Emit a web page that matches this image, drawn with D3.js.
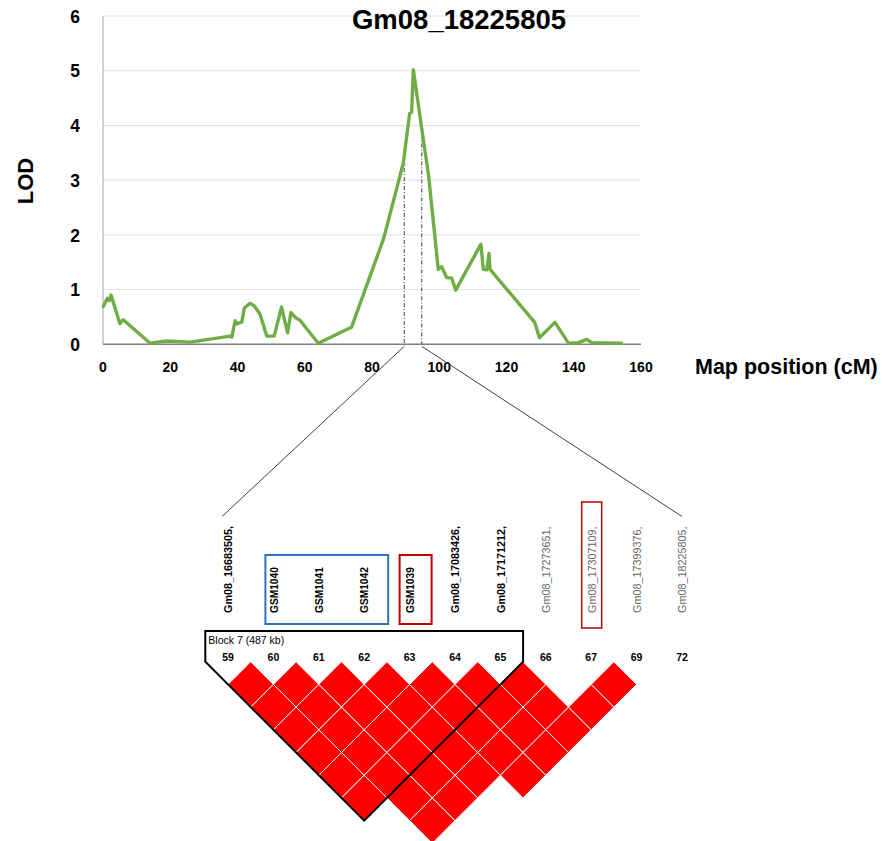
<!DOCTYPE html>
<html>
<head>
<meta charset="utf-8">
<script src="https://cdn.jsdelivr.net/npm/d3@7"></script>
<style>
  body { margin: 0; background: #fff; }
  text { font-family: "Liberation Sans", Arial, sans-serif; }
</style>
</head>
<body>
<script>
//LOD profile on Gm08 with the LD block below it

//LOD curve (cM, LOD)
var cmPos = [0.1, 1.3, 1.9, 2.4, 5.0, 6.0, 14.0, 18.9, 25.9, 37.8, 38.3, 39.3, 39.8, 41.3, 42.0,
  43.7, 45.0, 46.7, 48.7, 50.9, 53.1, 54.9, 55.9, 57.4, 58.6, 64.0, 73.9, 83.5, 89.3, 91.2, 91.8,
  92.3, 94.7, 96.8, 99.7, 100.7, 102.2, 103.7, 104.9, 112.4, 113.1, 114.1, 114.8, 115.1, 128.4,
  129.8, 134.4, 137.7, 138.4, 141.4, 143.9, 145.3, 154.2];
var lodVals = [0.69, 0.84, 0.80, 0.90, 0.38, 0.45, 0.02, 0.06, 0.04, 0.15, 0.13, 0.43, 0.37, 0.41, 0.66,
  0.75, 0.70, 0.55, 0.15, 0.15, 0.68, 0.21, 0.58, 0.48, 0.44, 0.02, 0.31, 1.94, 3.31, 4.22, 4.24,
  5.02, 3.98, 3.10, 1.37, 1.42, 1.22, 1.21, 0.99, 1.83, 1.37, 1.36, 1.66, 1.37, 0.40,
  0.12, 0.40, 0.09, 0.02, 0.03, 0.09, 0.03, 0.02];

var xTicks = [0, 20, 40, 60, 80, 100, 120, 140, 160];
var yTicks = [0, 1, 2, 3, 4, 5, 6];

//interval zoomed below (cM) and where the dash-dot lines meet the curve
var qtlPos = [89.6, 94.8];
var qtlLod = [3.55, 4.0];

var chartTitle = "Gm08_18225805";

//markers of the LD plot
var markerNums = ["59", "60", "61", "62", "63", "64", "65", "66", "67", "69", "72"];
var markerNames = ["Gm08_16683505,", "GSM1040", "GSM1041", "GSM1042", "GSM1039", "Gm08_17083426,",
  "Gm08_17171212,", "Gm08_17273651,", "Gm08_17307109,", "Gm08_17399376,", "Gm08_18225805,"];

//haplotype block
var blockMarkers = ["59", "60", "61", "62", "63", "64", "65"];
var blockLabel = "Block 7 (487 kb)";

//marker pairs in strong LD (red cells)
var ldPairs = [
  "59-60", "59-61", "59-62", "59-63", "59-64", "59-65",
  "60-61", "60-62", "60-63", "60-64", "60-65", "60-66", "60-67",
  "61-62", "61-63", "61-64", "61-65", "61-66", "61-67",
  "62-63", "62-64", "62-65", "62-66", "62-67",
  "63-64", "63-65", "63-66", "63-67", "63-69",
  "64-65", "64-66", "64-67", "64-69",
  "65-66", "65-67", "65-69",
  "66-69",
  "67-69"
];

//marker groups that are boxed
var blueBox = ["60", "62"];
var redBoxes = ["63", "67"];

var w = 884, h = 841;

window.onload = function(){

    var svg = d3.select("body")
        .append("svg")
        .attr("width", w)
        .attr("height", h)
        .style("background-color", "#fff");

    //scales for the LOD chart
    var x = d3.scaleLinear()
        .domain([0, 160])
        .range([103, 641]);

    var y = d3.scaleLinear()
        .domain([0, 6])
        .range([344.3, 16]);

    //gridlines
    svg.selectAll(".grid")
        .data(yTicks.filter(function(d){ return d > 0; }))
        .enter()
        .append("line")
        .attr("class", "grid")
        .attr("x1", x(0))
        .attr("x2", x(160))
        .attr("y1", function(d){ return y(d); })
        .attr("y2", function(d){ return y(d); })
        .style("stroke", "#e0e0e0")
        .style("stroke-width", 1);

    //left axis line and baseline
    svg.append("line")
        .attr("x1", x(0)).attr("x2", x(0))
        .attr("y1", y(6)).attr("y2", y(0))
        .style("stroke", "#a6a6a6")
        .style("stroke-width", 1);

    svg.append("line")
        .attr("x1", x(0)).attr("x2", x(160))
        .attr("y1", y(0)).attr("y2", y(0))
        .style("stroke", "#7f7f7f")
        .style("stroke-width", 1.5);

    //tick labels
    svg.selectAll(".ylab")
        .data(yTicks)
        .enter()
        .append("text")
        .attr("class", "ylab")
        .attr("x", 80)
        .attr("y", function(d){ return y(d); })
        .attr("dy", "0.38em")
        .attr("text-anchor", "end")
        .style("font-size", "17.5px")
        .style("font-weight", "bold")
        .text(function(d){ return d; });

    svg.selectAll(".xlab")
        .data(xTicks)
        .enter()
        .append("text")
        .attr("class", "xlab")
        .attr("x", function(d){ return x(d); })
        .attr("y", 372)
        .attr("text-anchor", "middle")
        .style("font-size", "14px")
        .style("font-weight", "bold")
        .text(function(d){ return d; });

    //axis titles
    svg.append("text")
        .attr("transform", "translate(33,181) rotate(-90)")
        .attr("text-anchor", "middle")
        .style("font-size", "22px")
        .style("font-weight", "bold")
        .text("LOD");

    svg.append("text")
        .attr("x", 695)
        .attr("y", 374)
        .style("font-size", "21.5px")
        .style("font-weight", "bold")
        .text("Map position (cM)");

    svg.append("text")
        .attr("x", 459)
        .attr("y", 28.5)
        .attr("text-anchor", "middle")
        .style("font-size", "27.5px")
        .style("font-weight", "bold")
        .text(chartTitle);

    //dash-dot lines marking the interval
    svg.selectAll(".qtl")
        .data(qtlPos)
        .enter()
        .append("line")
        .attr("class", "qtl")
        .attr("x1", function(d){ return x(d); })
        .attr("x2", function(d){ return x(d); })
        .attr("y1", function(d, i){ return y(qtlLod[i]); })
        .attr("y2", y(0))
        .style("stroke", "#404040")
        .style("stroke-width", 1)
        .style("stroke-dasharray", "4,2,1,2");

    //LOD curve
    var line = d3.line()
        .x(function(d){ return x(d[0]); })
        .y(function(d){ return y(d[1]); });

    svg.append("path")
        .datum(cmPos.map(function(d, i){ return [d, lodVals[i]]; }))
        .attr("d", line)
        .style("fill", "none")
        .style("stroke", "#70ad47")
        .style("stroke-width", 3.4)
        .style("stroke-linejoin", "round")
        .style("stroke-linecap", "round");

    //LD plot layout
    var xm = d3.scalePoint()
        .domain(markerNums)
        .range([228, 682]);

    var half = xm.step() / 2;
    var ldTop = 661.7;

    //zoom lines from the axis to the LD plot
    var zoomEnds = [[xm(markerNums[0]) - 6, 516.5], [xm(markerNums[markerNums.length - 1]), 516.5]];
    svg.selectAll(".zoomline")
        .data(qtlPos)
        .enter()
        .append("line")
        .attr("class", "zoomline")
        .attr("x1", function(d){ return x(d); })
        .attr("y1", y(0) + 2)
        .attr("x2", function(d, i){ return zoomEnds[i][0]; })
        .attr("y2", function(d, i){ return zoomEnds[i][1]; })
        .style("stroke", "#404040")
        .style("stroke-width", 1);

    //marker names, rotated
    svg.selectAll(".mname")
        .data(markerNames)
        .enter()
        .append("text")
        .attr("class", "mname")
        .attr("transform", function(d, i){
            return "translate(" + (xm(markerNums[i]) + 0.5) + ",613) rotate(-90)";
        })
        .attr("dy", "0.36em")
        .style("font-size", function(d){ return d.indexOf("GSM") === 0 ? "10.2px" : "10.8px"; })
        .style("font-weight", function(d, i){ return blockMarkers.indexOf(markerNums[i]) >= 0 ? "bold" : "normal"; })
        .style("fill", function(d, i){ return blockMarkers.indexOf(markerNums[i]) >= 0 ? "#000" : "#666"; })
        .text(function(d){ return d; });

    //boxes round the highlighted markers
    svg.append("rect")
        .attr("x", xm(blueBox[0]) - 8)
        .attr("y", 555)
        .attr("width", xm(blueBox[1]) + 24 - (xm(blueBox[0]) - 8))
        .attr("height", 69)
        .style("fill", "none")
        .style("stroke", "#2e75b6")
        .style("stroke-width", 2);

    svg.append("rect")
        .attr("x", xm(redBoxes[0]) - 10)
        .attr("y", 555)
        .attr("width", 32)
        .attr("height", 69)
        .style("fill", "none")
        .style("stroke", "#c00000")
        .style("stroke-width", 2);

    svg.append("rect")
        .attr("x", xm(redBoxes[1]) - 9.5)
        .attr("y", 502)
        .attr("width", 20)
        .attr("height", 126)
        .style("fill", "none")
        .style("stroke", "#c00000")
        .style("stroke-width", 1.5);

    //marker numbers
    svg.selectAll(".mnum")
        .data(markerNums)
        .enter()
        .append("text")
        .attr("class", "mnum")
        .attr("x", function(d){ return xm(d); })
        .attr("y", 660.5)
        .attr("text-anchor", "middle")
        .style("font-size", "10.5px")
        .style("font-weight", "bold")
        .text(function(d){ return d; });

    //LD cells as diamonds
    svg.selectAll(".ld")
        .data(ldPairs)
        .enter()
        .append("polygon")
        .attr("class", "ld")
        .attr("points", function(d){
            var p = d.split("-");
            var cx = (xm(p[0]) + xm(p[1])) / 2;
            var dist = markerNums.indexOf(p[1]) - markerNums.indexOf(p[0]);
            var cy = ldTop + dist * half;
            return [[cx, cy - half], [cx + half, cy], [cx, cy + half], [cx - half, cy]].join(" ");
        })
        .style("fill", "#ff0000")
        .style("stroke", "#ffffff")
        .style("stroke-width", 1);

    //block outline
    var bFirst = blockMarkers[0], bLast = blockMarkers[blockMarkers.length - 1];
    var bSpan = markerNums.indexOf(bLast) - markerNums.indexOf(bFirst);
    var bLeft = xm(bFirst) - half, bRight = xm(bLast) + half;
    var bBottom = [(xm(bFirst) + xm(bLast)) / 2, ldTop + (bSpan + 1) * half];

    svg.append("path")
        .attr("d", "M" + bLeft + "," + ldTop + " L" + bLeft + ",631 L" + bRight + ",631 L" + bRight + "," + ldTop +
            " L" + bBottom[0] + "," + bBottom[1] + " Z")
        .style("fill", "none")
        .style("stroke", "#000")
        .style("stroke-width", 2);

    svg.append("text")
        .attr("x", bLeft + 3)
        .attr("y", 644)
        .style("font-size", "10.5px")
        .text(blockLabel);
};
</script>
</body>
</html>
